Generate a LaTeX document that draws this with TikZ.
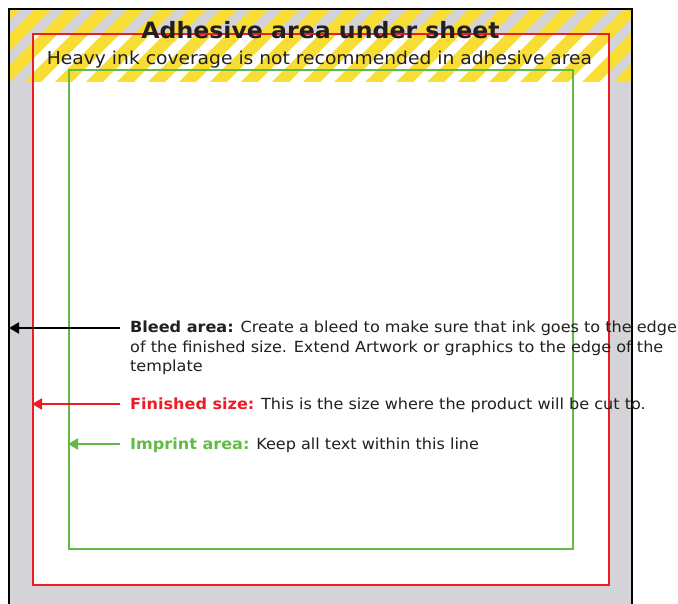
\documentclass[tikz,border=0pt]{standalone}
\usepackage{fontspec}
\setmainfont{DejaVu Sans}[FakeStretch=1.05]
\usetikzlibrary{arrows.meta}
\definecolor{bleedgray}{RGB}{211,211,216}
\definecolor{cutred}{RGB}{237,28,36}
\definecolor{imgreen}{RGB}{98,187,70}
\definecolor{stripey}{RGB}{248,222,52}
\definecolor{inkdark}{RGB}{35,31,32}
\tikzset{
  lbl/.style={inner sep=0pt, text=inkdark, font=\fontsize{15.3}{19.5}\selectfont, align=left},
  pointer/.style={line width=2pt, -{Triangle[length=10pt,width=11pt]}},
}
\begin{document}
\begin{tikzpicture}[x=1pt,y=-1pt]
\useasboundingbox (0,0) rectangle (678,604);
% bleed background
\fill[bleedgray] (9,9) rectangle (632,606);
% finished area white
\fill[white] (32,33) rectangle (608,584);
% stripes
\begin{scope}
\clip (9,9) rectangle (632,82);
\foreach \a in {-100,-69,...,660} {
  \fill[stripey] (\a,82) -- ++(17,0) -- ++(73,-73) -- ++(-17,0) -- cycle;
}
\end{scope}
% frames
\node[draw=cutred, line width=2pt, minimum width=576pt, minimum height=551pt, anchor=north west, inner sep=0pt] (finished) at (32,33) {};
\node[draw=imgreen, line width=2pt, minimum width=504pt, minimum height=479pt, anchor=north west, inner sep=0pt] (imprint) at (68,69) {};
\draw[black, line width=2.2pt] (9,606) -- (9,9) -- (632,9) -- (632,606);
\coordinate (bleededge) at (9,328);
% titles
\node[inner sep=0pt, anchor=base, text=inkdark, font=\fontsize{22.5}{24}\selectfont\bfseries] (title) at (320.5,38.5) {Adhesive area under sheet};
\node[inner sep=0pt, anchor=base, text=inkdark, font=\fontsize{17.8}{20}\selectfont] (sub) at (319.5,64.5) {Heavy ink coverage is not recommended in adhesive area};
% labels
\node[lbl, anchor=north west] (bleedlbl) at (130,321) {\textbf{Bleed area:} Create a bleed to make sure that ink goes to the edge\\of the finished size. Extend Artwork or graphics to the edge of the\\template};
\node[lbl, anchor=base west] (finlbl) at (130,409.5) {\textcolor{cutred}{\textbf{Finished size:}} This is the size where the product will be cut to.};
\node[lbl, anchor=base west] (implbl) at (130,449.5) {\textcolor{imgreen}{\textbf{Imprint area:}} Keep all text within this line};
% arrows
\coordinate (bs) at (120,328);
\coordinate (fs) at (120,404);
\coordinate (is) at (120,444);
\draw[pointer, black] (bs) -- (bleededge);
\draw[pointer, cutred] (fs) -- (fs -| finished.west);
\draw[pointer, imgreen] (is) -- (is -| imprint.west);
\end{tikzpicture}
\end{document}
